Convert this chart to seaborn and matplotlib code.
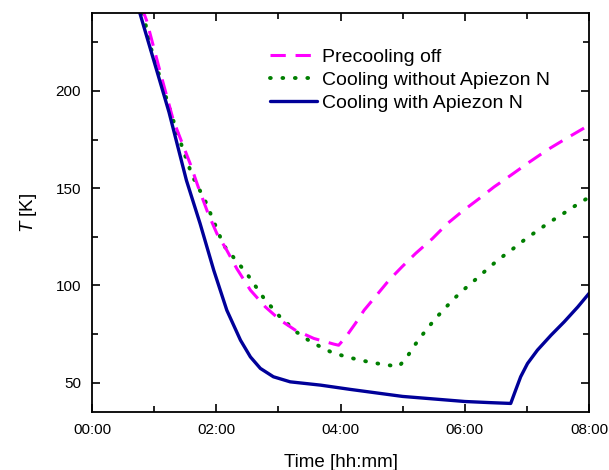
import matplotlib
matplotlib.use("Agg")
import matplotlib.pyplot as plt
import seaborn as sns
import pandas as pd
from matplotlib.ticker import MultipleLocator, FixedLocator, FixedFormatter

# ---- data (time in hours, temperature in K) ----
t_pre = [0.80, 0.88, 1.12, 1.31, 1.58, 1.71, 1.87, 2.01, 2.17, 2.33, 2.55, 2.79, 3.03, 3.27,
         3.57, 3.89, 3.97, 4.08, 4.24, 4.38, 4.56, 4.78, 4.99, 5.21, 5.48, 5.72, 5.96, 6.23,
         6.47, 6.74, 7.04, 7.33, 7.60, 7.90, 8.00]
T_pre = [243, 236, 207, 184.8, 162.6, 150.6, 136.9, 126.7, 118.1, 108.7, 97.6, 89.0, 82.2, 77.1,
         72.8, 69.9, 69.3, 73.3, 80.5, 87.3, 94.2, 102.7, 109.6, 116.5, 124.1, 131.8, 138.1, 144.6,
         150.6, 156.6, 163.4, 169.7, 174.9, 180.5, 182.5]

t_noap = [0.82, 0.96, 1.15, 1.36, 1.61, 1.82, 2.12, 2.49, 2.77, 3.02, 3.30, 3.53, 3.86,
          4.07, 4.28, 4.49, 4.71, 4.94, 5.07, 5.18, 5.29, 5.41, 5.53, 5.65, 5.86, 6.00,
          6.15, 6.43, 6.58, 6.73, 6.87, 7.02, 7.18, 7.33, 7.57, 7.73, 7.90, 8.00]
T_noap = [240, 220.7, 201, 179.6, 156.6, 143.7, 120.6, 106.2, 93.3, 84.1, 75.9, 70.9, 65.6,
          63.6, 61.9, 60.5, 59.3, 58.4, 63.2, 68.7, 73.5, 78.4, 83.0, 87.3, 94.2, 98.3,
          102.4, 110.3, 114.2, 117.7, 121.2, 124.9, 128.3, 131.8, 136.6, 140.0, 143.4, 145.3]

t_ap = [0.72, 0.77, 1.24, 1.52, 1.74, 1.96, 2.17, 2.39, 2.55, 2.71, 2.92, 3.19, 3.68,
        4.16, 5.00, 6.00, 6.42, 6.74, 6.82, 6.90, 7.01, 7.17, 7.39, 7.60, 7.82, 8.00]
T_ap = [247, 240, 189, 154, 131.8, 107.8, 87.3, 71.9, 63.3, 57.4, 53.1, 50.5, 48.8,
        46.6, 43.0, 40.4, 39.8, 39.4, 46.3, 53.1, 59.9, 66.8, 74.5, 81.3, 89.0, 95.9]

labels = ["Precooling off", "Cooling without Apiezon N", "Cooling with Apiezon N"]
x_ticks = [0, 2, 4, 6, 8]
x_ticklabels = ["00:00", "02:00", "04:00", "06:00", "08:00"]
y_ticks = [50, 100, 150, 200]

df_pre = pd.DataFrame({"t": t_pre, "T": T_pre})
df_noap = pd.DataFrame({"t": t_noap, "T": T_noap})
df_ap = pd.DataFrame({"t": t_ap, "T": T_ap})

sns.set_style("ticks")
plt.rcParams["font.family"] = ["Liberation Sans", "DejaVu Sans"]
plt.rcParams["mathtext.fontset"] = "custom"
plt.rcParams["mathtext.it"] = "Liberation Sans:italic"
plt.rcParams["mathtext.rm"] = "Liberation Sans"
for k in ["text.color", "axes.labelcolor", "xtick.color", "ytick.color", "axes.edgecolor"]:
    plt.rcParams[k] = "black"

fig = plt.figure(figsize=(6.09, 4.70), dpi=100)
ax = fig.add_axes([92/609, 58/470, 497/609, 399/470])

lw = 2.2
sns.lineplot(data=df_noap, x="t", y="T", ax=ax, color="#007F00", lw=2.8,
             linestyle=(0, (0.2, 3.0)), dash_capstyle="round", label=labels[1], sort=False)
sns.lineplot(data=df_pre, x="t", y="T", ax=ax, color="#FF00FF", lw=lw,
             linestyle=(0, (5, 3.2)), label=labels[0], sort=False)
sns.lineplot(data=df_ap, x="t", y="T", ax=ax, color="#000099", lw=lw + 0.2,
             label=labels[2], sort=False)

ax.set_xlim(0, 8)
ax.set_ylim(35, 240)
ax.xaxis.set_major_locator(FixedLocator(x_ticks))
ax.xaxis.set_major_formatter(FixedFormatter(x_ticklabels))
ax.xaxis.set_minor_locator(MultipleLocator(1))
ax.yaxis.set_major_locator(FixedLocator(y_ticks))
ax.yaxis.set_minor_locator(MultipleLocator(25))
ax.tick_params(which="both", direction="in", top=True, right=True, width=1.2, color="black")
ax.tick_params(which="major", length=6, labelsize=11, pad=8, labelcolor="black")
ax.tick_params(which="minor", length=4)
for s in ax.spines.values():
    s.set_linewidth(1.3)
    s.set_color("black")

ax.set_xlabel("Time [hh:mm]", fontsize=13.5, labelpad=12)
ax.set_ylabel("$T$ [K]", fontsize=13.5, labelpad=12)

h, l = ax.get_legend_handles_labels()
order = [l.index(x) for x in labels]
ax.legend([h[i] for i in order], [l[i] for i in order], loc="upper left",
          bbox_to_anchor=((270-92)/497, (412-48)/399), frameon=False, fontsize=14,
          handlelength=2.4, handletextpad=0.25, labelspacing=0.28, borderpad=0, borderaxespad=0)

fig.savefig("out.png", dpi=100)
